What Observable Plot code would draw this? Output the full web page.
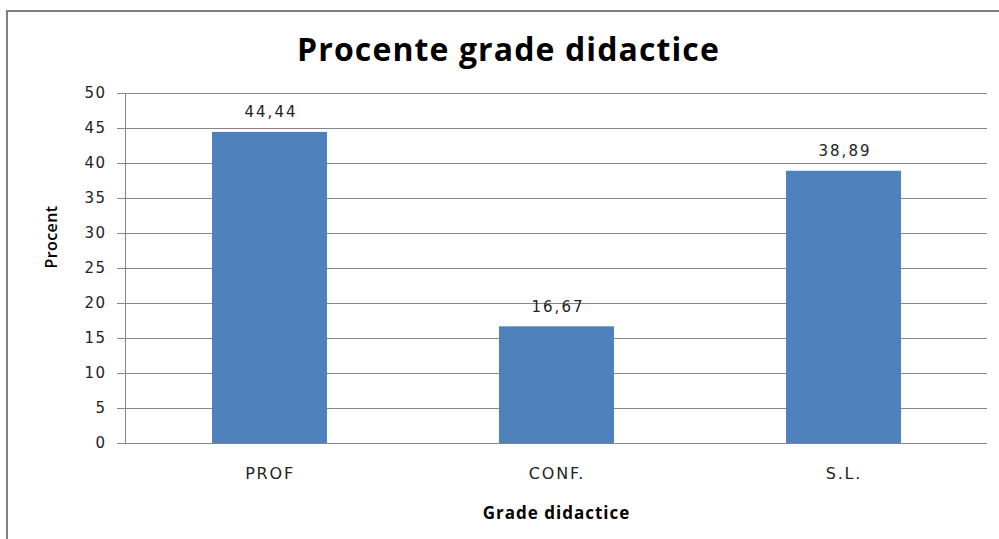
<!DOCTYPE html>
<html>
<head>
<meta charset="utf-8">
<script src="https://cdn.jsdelivr.net/npm/d3@7"></script>
<script src="https://cdn.jsdelivr.net/npm/@observablehq/plot@0.6"></script>
<style>
  html, body { margin: 0; padding: 0; background: white; }
</style>
</head>
<body>
<div id="chart"></div>
<script>
const categories = ["PROF", "CONF.", "S.L."];
const values = [44.44, 16.67, 38.89];
const valueLabels = ["44,44", "16,67", "38,89"];
const yTicks = [0, 5, 10, 15, 20, 25, 30, 35, 40, 45, 50];
const title = "Procente grade didactice";
const xTitle = "Grade didactice";
const yTitle = "Procent";

const data = categories.map((c, i) => ({cat: c, value: values[i], label: valueLabels[i]}));

const gray = "#868686";

const chart = Plot.plot({
  width: 999,
  height: 539,
  marginLeft: 125,
  marginRight: 12,
  marginTop: 93,
  marginBottom: 96,
  style: {fontFamily: "DejaVu Sans", background: "white", color: "#000"},
  x: {domain: categories, paddingInner: 0.6, paddingOuter: 0.3, label: null},
  y: {domain: [0, 50], label: null},
  marks: [
    Plot.gridY(yTicks, {stroke: gray, strokeOpacity: 1, strokeWidth: 1}),
    Plot.frame({anchor: "left", stroke: gray, strokeWidth: 1}),
    Plot.barY(data, {x: "cat", y: "value", fill: "#4F81BD"}),
    Plot.text(data, {x: "cat", y: "value", text: "label", dy: -20, dx: 1, fontSize: 15, fill: "#222"}),
    Plot.axisY(yTicks, {tickSize: 8, tickPadding: 11, stroke: gray, fontSize: 15, fill: "#222", label: null, tickFormat: d => String(d)}),
    Plot.axisX({tickSize: 0, tickPadding: 24, fontSize: 16, fill: "#222", label: null}),
    Plot.text([xTitle], {frameAnchor: "bottom", dy: 70, lineAnchor: "middle", fontFamily: "Open Sans", fontWeight: "bold", fontSize: 17, fill: "#000"}),
    Plot.text([yTitle], {frameAnchor: "left", dx: -74, rotate: -90, lineAnchor: "middle", fontFamily: "Open Sans", fontWeight: 600, fontSize: 16, fill: "#000"}),
    Plot.text([title], {frameAnchor: "top", dx: -48, dy: -43, lineAnchor: "middle", fontFamily: "Open Sans", fontWeight: "bold", fontSize: 32, fill: "#000"})
  ]
});

const svg = d3.select(chart);
function spaceText(match, spacing) {
  svg.selectAll("text").filter(function () { return match(this.textContent); })
    .attr("letter-spacing", spacing);
}
spaceText(t => valueLabels.includes(t), "2px");
spaceText(t => categories.includes(t), "1.8px");
spaceText(t => t === xTitle, "1px");
spaceText(t => t === yTitle, "0.4px");
spaceText(t => t === title, "1.1px");
svg.selectAll('g[aria-label="y-axis tick label"] text').attr("letter-spacing", "1.5px");

svg.append("rect")
  .attr("x", 7).attr("y", 11).attr("width", 1100).attr("height", 600)
  .attr("fill", "none").attr("stroke", "#7f7f7f").attr("stroke-width", 2);

document.getElementById("chart").appendChild(chart);
</script>
</body>
</html>
